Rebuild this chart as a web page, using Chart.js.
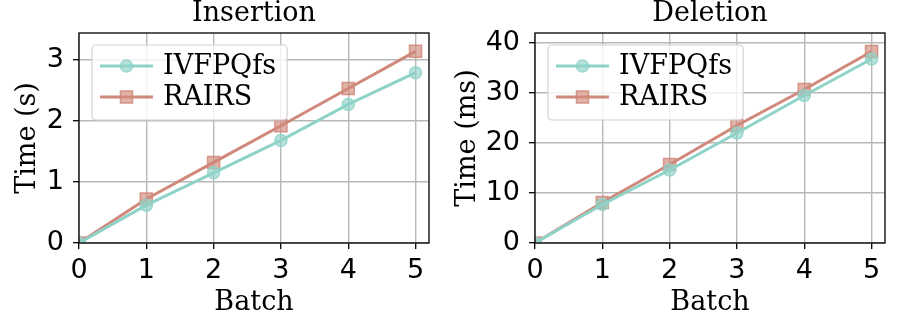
<!DOCTYPE html>
<html>
<head>
<meta charset="utf-8">
<script src="https://cdn.jsdelivr.net/npm/chart.js@4.4.1/dist/chart.umd.min.js"></script>
<style>
  html, body { margin: 0; padding: 0; background: #fff; }
  #wrap { position: relative; width: 897px; height: 314px; }
  .box { position: absolute; top: 0; height: 314px; }
</style>
</head>
<body>
<div id="wrap">
  <div class="box" style="left:0;width:450px"><canvas id="ins" width="450" height="314"></canvas></div>
  <div class="box" style="left:450px;width:447px"><canvas id="del" width="447" height="314"></canvas></div>
</div>
<script>
// data
const batches = [0, 1, 2, 3, 4, 5];
const seriesNames = ['IVFPQfs', 'RAIRS'];
const insIvf = [0, 0.62, 1.15, 1.68, 2.27, 2.79];
const insRairs = [0, 0.72, 1.32, 1.92, 2.53, 3.14];
const delIvf = [0, 7.7, 14.6, 22.0, 29.5, 36.8];
const delRairs = [0, 8.1, 15.7, 23.5, 30.7, 38.3];

const teal = '#8fd3c8';
const red = '#d0887a';
const sans = 'DejaVu Sans';
const serif = 'DejaVu Serif';
const fs = 27;

function rgba(hex, a) {
  const n = parseInt(hex.slice(1), 16);
  return `rgba(${n >> 16},${(n >> 8) & 255},${n & 255},${a})`;
}

function makeSet(label, values, color, style, r) {
  return {
    label: label,
    data: batches.map((b, i) => ({ x: b, y: values[i] })),
    borderColor: color,
    borderWidth: 3,
    pointStyle: style,
    pointRadius: r,
    pointBackgroundColor: rgba(color, 0.65),
    pointBorderColor: rgba(color, 0.85),
    pointBorderWidth: 1.5,
    tension: 0,
    fill: false
  };
}

// frame, title over the plot area, and legend inside the chart area
const framePlugin = {
  id: 'frame',
  afterDatasetsDraw(chart, args, opts) {
    const { ctx, chartArea: a } = chart;
    ctx.save();
    ctx.strokeStyle = '#000';
    ctx.lineWidth = 1.3;
    ctx.strokeRect(a.left, a.top, a.right - a.left, a.bottom - a.top);

    ctx.font = fs + 'px "' + serif + '"';
    ctx.fillStyle = '#000';
    ctx.textAlign = 'center';
    ctx.textBaseline = 'middle';
    ctx.fillText(opts.title, (a.left + a.right) / 2, 13.5);

    // legend
    const bx = a.left + 13, by = a.top + 12;
    let tw = 0;
    chart.data.datasets.forEach(d => { tw = Math.max(tw, ctx.measureText(d.label).width); });
    const bw = 8 + 53 + 10 + tw + 11, bh = 75;
    ctx.beginPath();
    ctx.roundRect(bx, by, bw, bh, 4);
    ctx.fillStyle = 'rgba(255,255,255,0.8)';
    ctx.fill();
    ctx.strokeStyle = '#d0d0d0';
    ctx.lineWidth = 1.2;
    ctx.stroke();
    chart.data.datasets.forEach((d, i) => {
      const cy = by + 21 + i * 31;
      ctx.strokeStyle = d.borderColor;
      ctx.lineWidth = d.borderWidth;
      ctx.beginPath();
      ctx.moveTo(bx + 8, cy);
      ctx.lineTo(bx + 61, cy);
      ctx.stroke();
      ctx.fillStyle = d.pointBackgroundColor;
      ctx.strokeStyle = d.pointBorderColor;
      ctx.lineWidth = d.pointBorderWidth;
      Chart.helpers.drawPoint(ctx, { pointStyle: d.pointStyle, radius: d.pointRadius, borderWidth: d.pointBorderWidth }, bx + 34.5, cy);
      ctx.fillStyle = '#000';
      ctx.textAlign = 'left';
      ctx.textBaseline = 'middle';
      ctx.fillText(d.label, bx + 71, cy + 1);
    });
    ctx.restore();
  }
};

function makeChart(id, title, yTitle, ivf, rairs, yMax, yStep, yWidth, yTitlePad, rightPad) {
  return new Chart(document.getElementById(id), {
    type: 'line',
    data: {
      datasets: [
        makeSet(seriesNames[0], ivf, teal, 'circle', 6),
        makeSet(seriesNames[1], rairs, red, 'rect', 8.5)
      ]
    },
    options: {
      responsive: false,
      animation: false,
      devicePixelRatio: 1,
      layout: { padding: { left: 0, right: rightPad, top: 33, bottom: 0 } },
      plugins: {
        legend: { display: false },
        tooltip: { enabled: false },
        title: { display: false },
        frame: { title: title }
      },
      scales: {
        x: {
          type: 'linear',
          min: 0,
          max: 5.2,
          afterFit: s => { s.height = 71; },
          ticks: { stepSize: 1, includeBounds: false, color: '#000', padding: 6, font: { family: sans, size: fs, lineHeight: 1.2 } },
          grid: { color: '#b8b8b8', lineWidth: 1.4, tickColor: '#000', tickLength: 6, tickWidth: 1.3 },
          border: { display: false },
          title: { display: true, text: 'Batch', color: '#000', padding: { top: 0, bottom: -2.5 }, font: { family: serif, size: fs, lineHeight: 1.0 } }
        },
        y: {
          min: 0,
          max: yMax,
          afterFit: s => { s.width = yWidth; },
          ticks: { stepSize: yStep, includeBounds: false, color: '#000', padding: 9, font: { family: sans, size: fs, lineHeight: 1.2 } },
          grid: { color: '#b8b8b8', lineWidth: 1.4, tickColor: '#000', tickLength: 6, tickWidth: 1.3 },
          border: { display: false },
          title: { display: true, text: yTitle, color: '#000', padding: { top: yTitlePad, bottom: 0 }, font: { family: serif, size: fs, lineHeight: 1.0 } }
        }
      }
    },
    plugins: [framePlugin]
  });
}

makeChart('ins', 'Insertion', 'Time (s)', insIvf, insRairs, 3.44, 1, 79, 14, 21);
makeChart('del', 'Deletion', 'Time (ms)', delIvf, delRairs, 42, 10, 85, 4, 12);
</script>
</body>
</html>
